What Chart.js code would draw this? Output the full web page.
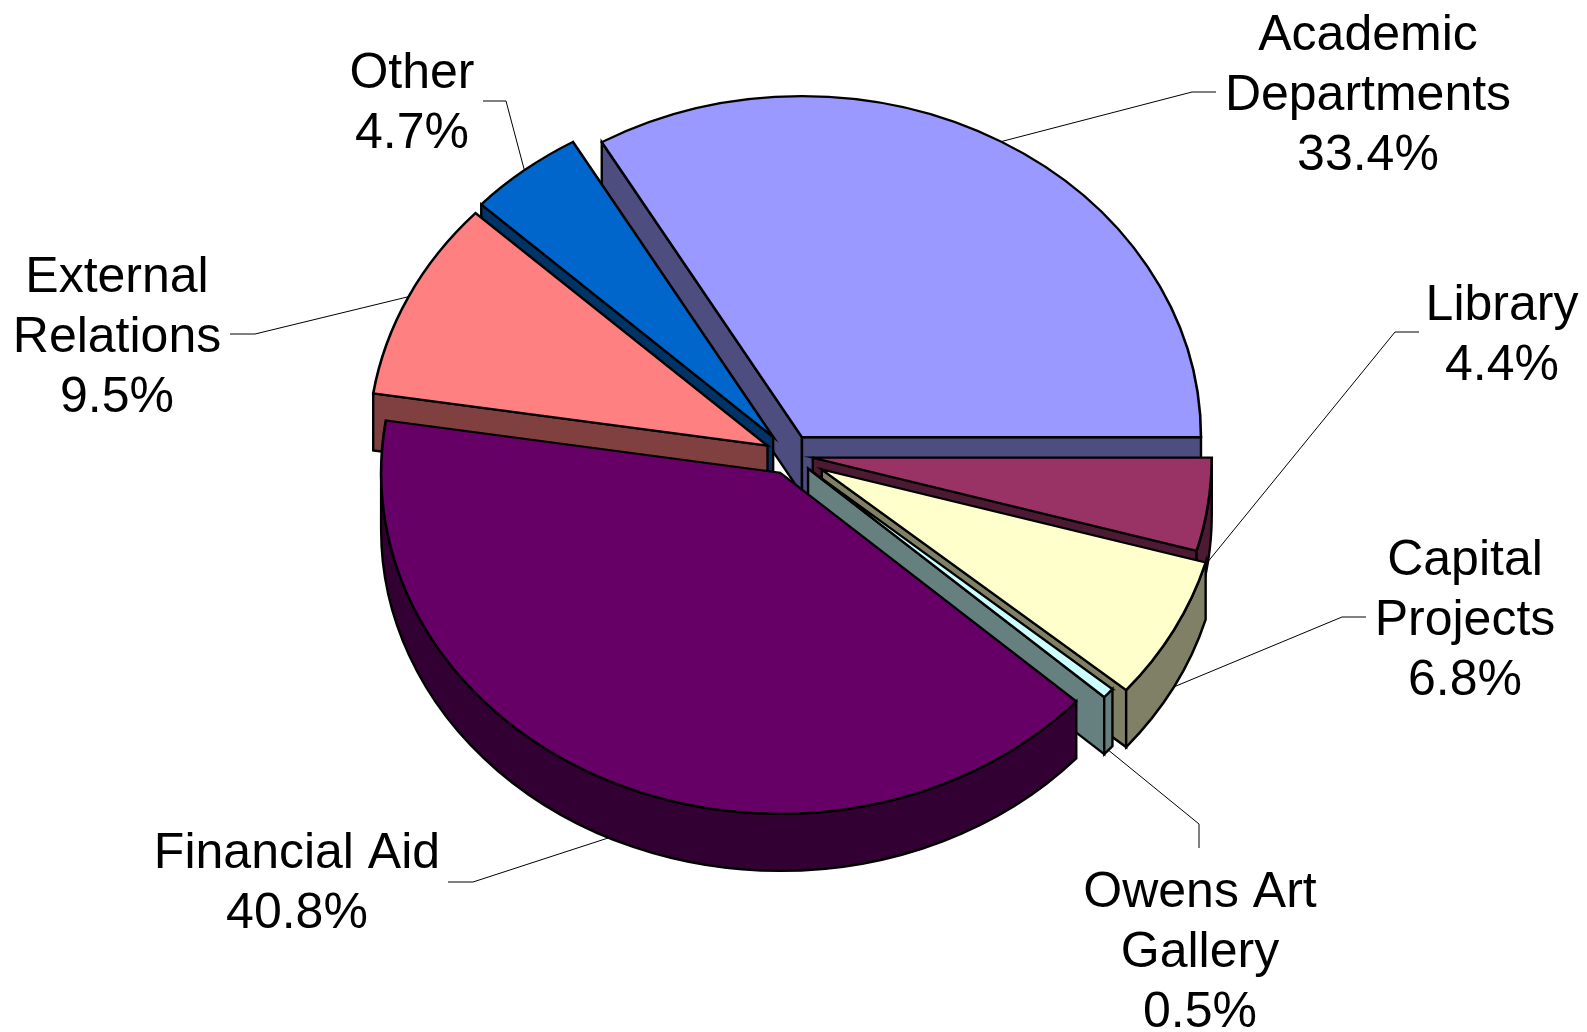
<!DOCTYPE html>
<html>
<head>
<meta charset="utf-8">
<script src="https://cdn.jsdelivr.net/npm/chart.js@4.4.1/dist/chart.umd.min.js"></script>
<style>
html,body{margin:0;padding:0;background:#ffffff;}
#wrap{width:1587px;height:1032px;position:relative;}
</style>
</head>
<body>
<div id="wrap"><canvas id="c"></canvas></div>
<script>
// ---- data ----
const categories = [
  ['Academic', 'Departments'],
  ['Library'],
  ['Capital', 'Projects'],
  ['Owens Art', 'Gallery'],
  ['Financial Aid'],
  ['External', 'Relations'],
  ['Other']
];
const shares = [33.4, 4.4, 6.8, 0.5, 40.8, 9.5, 4.7];
const percentLabels = shares.map(v => v.toFixed(1) + '%');

// ---- styles ----
const topColors  = ['#9999FF', '#993366', '#FFFFCC', '#CCFFFF', '#660066', '#FF8080', '#0066CC'];
const sideColors = ['#4D4D80', '#4D1A33', '#808066', '#668080', '#330033', '#804040', '#003366'];
const explode    = [24, 23, 36, 24, 23, 25, 27];
const VIEW = { tilt: 0.855, depth: 57, radius: 399, border: 2.6, wallBorder: 2.4 };
const LABEL_FONT = '50px "Liberation Sans", Arial, sans-serif';
const LINE_H = 60;
// label anchor: center x, first baseline y, leader elbow and end
const labelLayout = [
  { x: 1368, y: 50,  elbow: [1192, 92],  end: [1216, 92] },
  { x: 1502, y: 320, elbow: [1395, 332], end: [1419, 332] },
  { x: 1465, y: 575, elbow: [1342, 617], end: [1366, 617] },
  { x: 1200, y: 907, elbow: [1199, 824], end: [1199, 848] },
  { x: 297,  y: 868, elbow: [473, 882],  end: [448, 882] },
  { x: 117,  y: 292, elbow: [255, 334],  end: [230, 334] },
  { x: 412,  y: 88,  elbow: [506, 101],  end: [483, 101] }
];
const total = shares.reduce((a, b) => a + b, 0);
const startRotation = 90 - 360 * shares[0] / total;

const pie3d = {
  id: 'pie3d',
  beforeDatasetsDraw(chart) {
    const meta = chart.getDatasetMeta(0);
    const ctx = chart.ctx;
    const ca = chart.chartArea;
    const cx = (ca.left + ca.right) / 2, cy = (ca.top + ca.bottom) / 2;
    const k = VIEW.tilt, D = VIEW.depth;
    const geo = meta.data.map((arc, i) => {
      const p = arc.getProps(['startAngle', 'endAngle', 'outerRadius'], true);
      const mid = (p.startAngle + p.endAngle) / 2;
      const ex = cx + Math.cos(mid) * explode[i];
      const eyU = cy + Math.sin(mid) * explode[i];
      arc.x = ex; arc.y = eyU;
      return { i, a1: p.startAngle, a2: p.endAngle, r: p.outerRadius, mid, ex, ey: cy + (eyU - cy) * k };
    });
    chart.$pieGeo = geo;
    const order = geo.slice().sort((a, b) => Math.sin(a.mid) - Math.sin(b.mid));
    ctx.save();
    ctx.lineWidth = VIEW.wallBorder;
    ctx.strokeStyle = '#000000';
    ctx.lineJoin = 'miter';
    for (const g of order) {
      const R = g.r, ry = R * k;
      ctx.fillStyle = sideColors[g.i];
      const face = (a) => {
        const px = g.ex + R * Math.cos(a), py = g.ey + ry * Math.sin(a);
        ctx.beginPath();
        ctx.moveTo(g.ex, g.ey);
        ctx.lineTo(px, py);
        ctx.lineTo(px, py + D);
        ctx.lineTo(g.ex, g.ey + D);
        ctx.closePath();
        ctx.fill(); ctx.stroke();
      };
      if (Math.cos(g.a1) < 0) face(g.a1);
      if (Math.cos(g.a2) > 0) face(g.a2);
      const lo = Math.max(g.a1, 0), hi = Math.min(g.a2, Math.PI);
      if (hi > lo) {
        ctx.beginPath();
        ctx.ellipse(g.ex, g.ey, R, ry, 0, lo, hi, false);
        ctx.ellipse(g.ex, g.ey + D, R, ry, 0, hi, lo, true);
        ctx.closePath();
        ctx.fill(); ctx.stroke();
      }
    }
    ctx.restore();
    // squash the flat pie tops into the tilted plane
    ctx.save();
    ctx.translate(0, cy);
    ctx.scale(1, k);
    ctx.translate(0, -cy);
  },
  afterDatasetsDraw(chart) {
    const ctx = chart.ctx;
    ctx.restore();
    const geo = chart.$pieGeo || [];
    const k = VIEW.tilt, D = VIEW.depth;
    ctx.save();
    // leader lines
    ctx.strokeStyle = '#000000';
    ctx.lineWidth = 1;
    geo.forEach(g => {
      const L = labelLayout[g.i];
      let ax = g.ex + g.r * Math.cos(g.mid);
      let ay = g.ey + g.r * k * Math.sin(g.mid);
      if (Math.sin(g.mid) > 0) ay += D;
      ctx.beginPath();
      ctx.moveTo(ax, ay);
      ctx.lineTo(L.elbow[0], L.elbow[1]);
      ctx.lineTo(L.end[0], L.end[1]);
      ctx.stroke();
    });
    // labels
    ctx.fillStyle = '#000000';
    ctx.font = LABEL_FONT;
    ctx.textAlign = 'center';
    ctx.textBaseline = 'alphabetic';
    categories.forEach((lines, i) => {
      const L = labelLayout[i];
      const all = lines.concat([percentLabels[i]]);
      all.forEach((t, j) => ctx.fillText(t, L.x, L.y + j * LINE_H));
    });
    ctx.restore();
  }
};

new Chart(document.getElementById('c'), {
  type: 'pie',
  data: {
    labels: categories,
    datasets: [{
      data: shares,
      backgroundColor: topColors,
      borderColor: '#000000',
      borderWidth: VIEW.border,
      borderJoinStyle: 'miter',
      offset: 0,
      hoverOffset: 0,
      radius: VIEW.radius,
      rotation: startRotation,
      clip: false
    }]
  },
  options: {
    responsive: true,
    maintainAspectRatio: false,
    animation: false,
    events: [],
    rotation: startRotation,
    radius: VIEW.radius,
    layout: { padding: { left: 200, right: 207, top: 24, bottom: 146 } },
    plugins: { legend: { display: false }, tooltip: { enabled: false } }
  },
  plugins: [pie3d]
});
</script>
</body>
</html>
